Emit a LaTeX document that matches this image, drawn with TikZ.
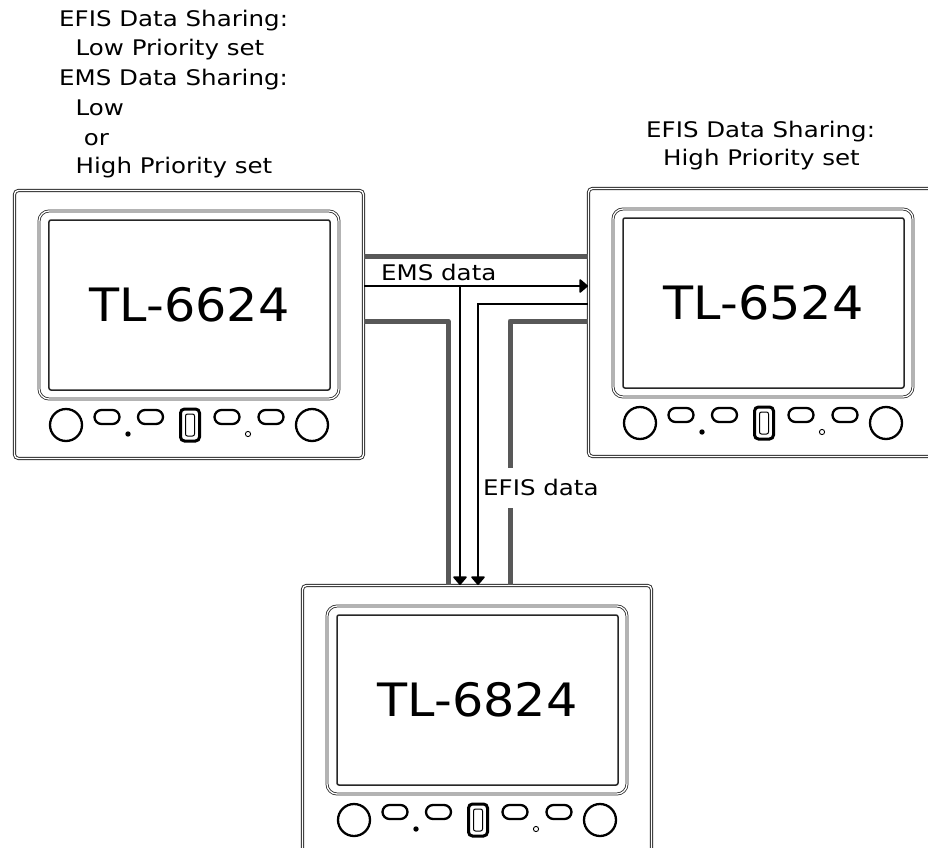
\documentclass[tikz,border=0pt]{standalone}
\usepackage{fontspec}
\setmainfont{DejaVu Sans}
\newfontfamily\lblfont{DejaVu Sans}[FakeStretch=1.14]
\newfontfamily\modelfont{DejaVu Sans}[FakeStretch=1.07]
\usetikzlibrary{arrows.meta}
\definecolor{cablegray}{RGB}{88,88,88}
\definecolor{edgegray}{RGB}{40,40,40}

\tikzset{
  caseframe/.style={draw=edgegray,line width=0.9bp,double,double distance=1.4bp,rounded corners=4bp,inner sep=0pt},
  bezel/.style={draw=edgegray,line width=0.8bp,double,double distance=1.3bp,rounded corners=10bp},
  screenbox/.style={draw=black!85,line width=1.5bp,rounded corners=2bp,inner sep=0pt,font=\modelfont\fontsize{46bp}{50bp}\selectfont},
  knob/.style={draw=black,line width=2.3bp},
  softkey/.style={draw=black,line width=2.3bp,rounded corners=7bp},
  usbport/.style={draw=black,line width=3bp,rounded corners=4bp},
  cable/.style={draw=cablegray,line width=5bp,line join=round},
  dataline/.style={draw=black,line width=1.5bp},
  tip/.style={-{Triangle[length=9bp,width=15bp,round]}},
  lbl/.style={font=\lblfont\fontsize{21.5bp}{29bp}\selectfont,inner sep=0pt,anchor=base west},
  panel/.pic={
    %case and screen
    \node[caseframe,minimum width=349bp,minimum height=268bp,anchor=north west] (-body) at (0,0) {};
    \draw[bezel] (25,21) rectangle (325,209);
    \node[screenbox,minimum width=281bp,minimum height=170bp] (-screen) at (175.5,115) {#1};
    %controls
    \foreach \x in {52,298} \draw[knob] (\x,235) circle[radius=16bp];
    \foreach \x in {93,136.5,213,257} \draw[softkey] (\x-12.5,220) rectangle +(25,14);
    \draw[usbport] (166.5,219) rectangle +(19,32);
    \draw[line width=1bp,rounded corners=2bp] (171.5,224) rectangle +(9,22);
    \fill (114,244) circle[radius=2.7bp];
    \draw[line width=0.9bp] (234,244) circle[radius=2.6bp];
  }
}

\begin{document}
\begin{tikzpicture}[x=1bp,y=-1bp]
  \clip (0,0) rectangle (928,848);
  \fill[white] (0,0) rectangle (928,848);
  %displays
  \pic (tl66) at (14,190) {panel=TL-6624};
  \pic (tl65) at (588,188) {panel=TL-6524};
  \pic (tl68) at (302,585) {panel=TL-6824};

  %settings, left
  \node[lbl] (lset1) at (59,26.7) {EFIS Data Sharing:};
  \node[lbl] (lset2) at (75.5,55) {Low Priority set};
  \node[lbl] (lset3) at (59,85.3) {EMS Data Sharing:};
  \node[lbl] (lset4) at (75.5,115) {Low};
  \node[lbl] (lset5) at (83.6,145) {or};
  \node[lbl] (lset6) at (75.5,173) {High Priority set};
  %settings, right
  \node[lbl] (rset1) at (646,137.5) {EFIS Data Sharing:};
  \node[lbl] (rset2) at (663,165) {High Priority set};

  %buses
  \draw[cable] (tl66-body.east |- 0,256) -- (tl65-body.west |- 0,256);
  \draw[cable] (tl66-body.east |- 0,321) -| (448,0 |- tl68-body.north);
  \draw[cable] (tl65-body.west |- 0,321) -| (510,468);
  \draw[cable] (510,508) -- (510,0 |- tl68-body.north);

  %ems data
  \draw[dataline,tip] (tl66-body.east |- 0,286) -- (tl65-body.west |- 0,286);
  \coordinate (emstap) at (460,286);
  \draw[dataline,tip] (emstap) -- (emstap |- tl68-body.north);
  \node[lbl] (emslbl) at (381,280) {EMS data};
  %efis data
  \draw[dataline,tip] (tl65-body.west |- 0,304) -| (478,0 |- tl68-body.north);
  \node[lbl] (efislbl) at (483,495) {EFIS data};
\end{tikzpicture}
\end{document}
